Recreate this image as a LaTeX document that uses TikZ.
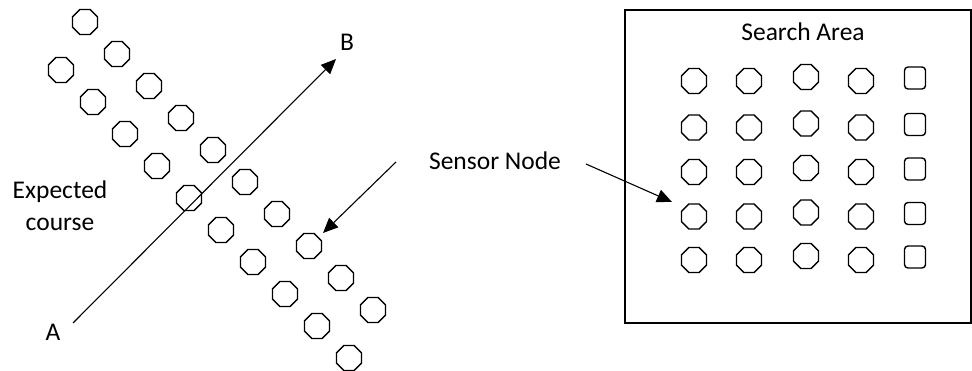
\documentclass[tikz,border=0pt]{standalone}
\usepackage{fontspec}
\setmainfont{Carlito}
\usetikzlibrary{shapes.geometric,arrows.meta}
\begin{document}
\begin{tikzpicture}[x=1pt,y=-1pt,
  oct/.style={draw,regular polygon,regular polygon sides=8,minimum size=27pt,inner sep=0pt,line width=1.4pt},
  sq/.style={draw,rounded corners=3.5pt,minimum width=21pt,minimum height=22pt,inner sep=0pt,line width=1.4pt},
  lbl/.style={font=\fontsize{25.5}{30}\selectfont,inner sep=0pt},
  arr/.style={line width=1.1pt,-{Triangle[length=15pt,width=13pt]}}]
\useasboundingbox (0,0) rectangle (972,371);
% diagonal rows
\foreach \i in {0,...,9}{
  \node[oct] (u\i) at ({85+32*\i},{22+32*\i}) {};
  \node[oct] (l\i) at ({61+32*\i},{70+32*\i}) {};
}
% search area
\node[draw,line width=1.4pt,minimum width=346pt,minimum height=313pt,inner sep=0pt] (box) at (798,166.5) {};
\node[lbl] (sa) at (803,32) {Search Area};
\foreach \r/\y in {1/81,2/127.5,3/172,4/216.5,5/260}{
  \node[oct] (g\r-1) at (694,\y) {};
  \node[oct] (g\r-2) at (749,\y) {};
  \node[oct] (g\r-3) at (806,\y-4) {};
  \node[oct] (g\r-4) at (861,\y) {};
  \node[sq] (g\r-5) at (915,\y-3) {};
}
% labels
\node[lbl] (B) at (347,42) {B};
\node[lbl] (A) at (53,332) {A};
\node[lbl] (ex) at (60,192) {Expected};
\node[lbl] (co) at (60,224) {course};
\node[lbl] (sn) at (495,161) {Sensor Node};
% arrows
\coordinate (a0) at (73,323);
\coordinate (b0) at (336,59);
\draw[arr] (a0) -- (b0);
\coordinate (s1a) at (396,162);
\coordinate (s1b) at (323,233);
\draw[arr] (s1a) -- (s1b);
\coordinate (s2a) at (586,164);
\coordinate (s2b) at (672,202);
\draw[arr] (s2a) -- (s2b);
\end{tikzpicture}
\end{document}
